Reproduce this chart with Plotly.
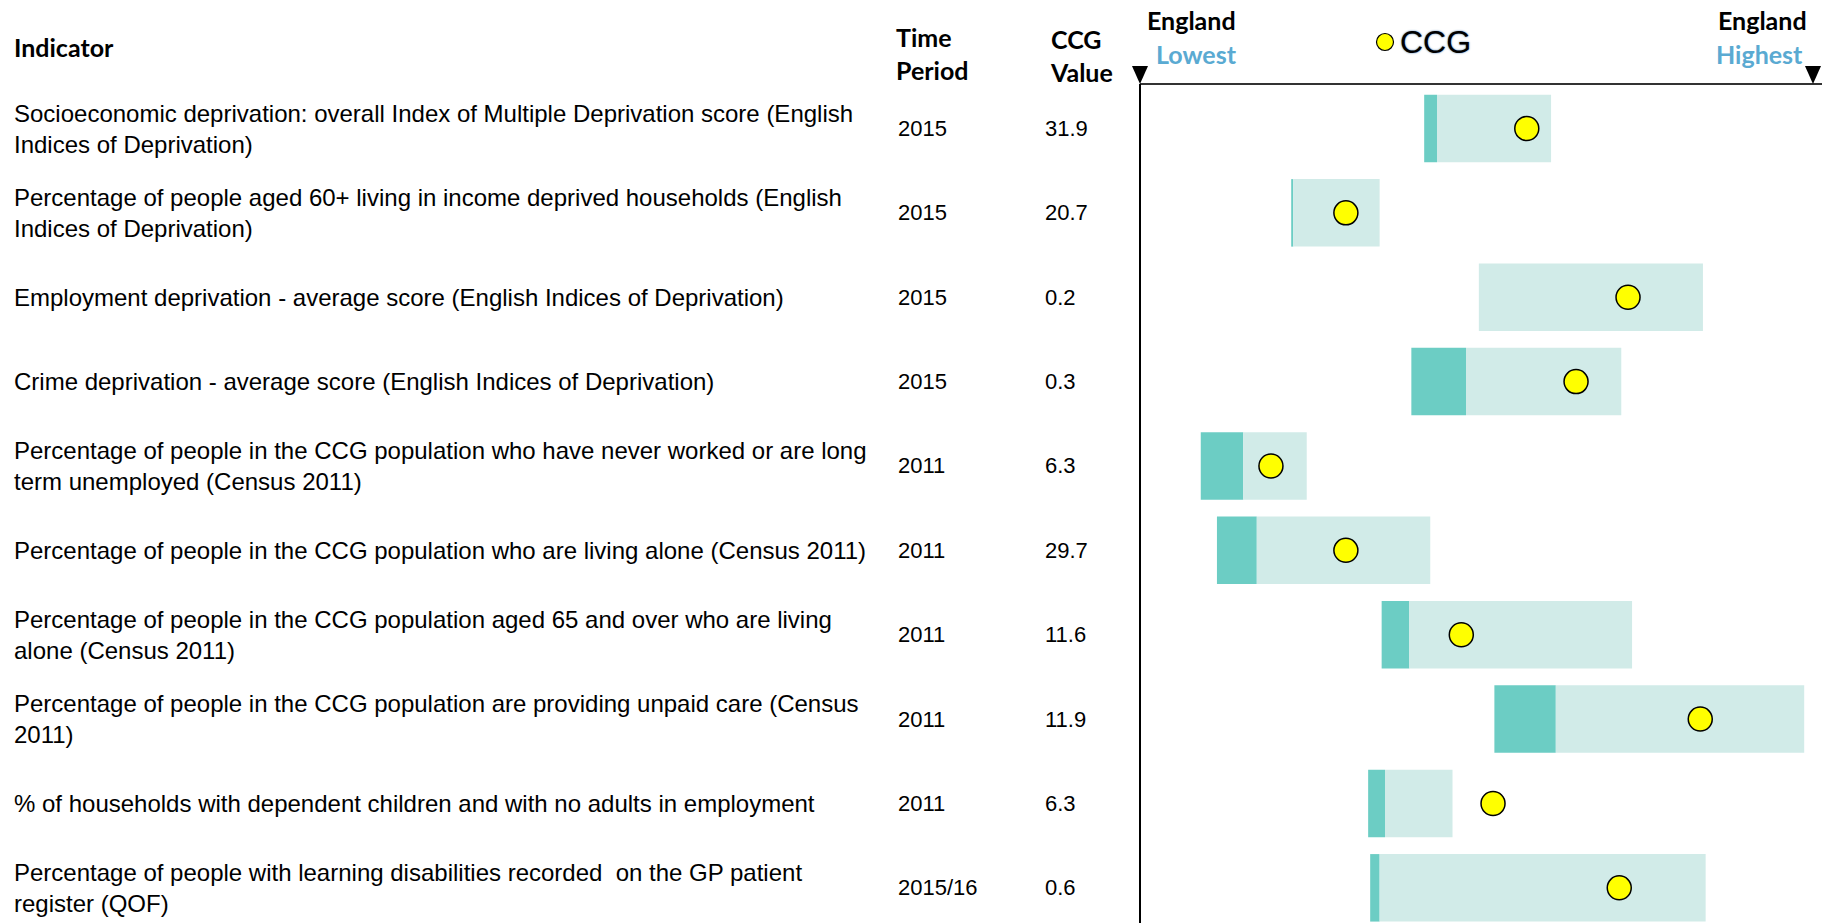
import plotly.graph_objects as go

W, H = 1822, 923

indicators = [
    "Socioeconomic deprivation: overall Index of Multiple Deprivation score (English<br>Indices of Deprivation)",
    "Percentage of people aged 60+ living in income deprived households (English<br>Indices of Deprivation)",
    "Employment deprivation - average score (English Indices of Deprivation)",
    "Crime deprivation - average score (English Indices of Deprivation)",
    "Percentage of people in the CCG population who have never worked or are long<br>term unemployed (Census 2011)",
    "Percentage of people in the CCG population who are living alone (Census 2011)",
    "Percentage of people in the CCG population aged 65 and over who are living<br>alone (Census 2011)",
    "Percentage of people in the CCG population are providing unpaid care (Census<br>2011)",
    "% of households with dependent children and with no adults in employment",
    "Percentage of people with learning disabilities recorded  on the GP patient<br>register (QOF)",
]
time_period = ["2015", "2015", "2015", "2015", "2011", "2011", "2011", "2011", "2011", "2015/16"]
ccg_value = ["31.9", "20.7", "0.2", "0.3", "6.3", "29.7", "11.6", "11.9", "6.3", "0.6"]

# spine positions on a 0 (England lowest) .. 100 (England highest) scale
dark_start = [42.1, 22.4, 50.2, 40.2, 9.0, 11.4, 35.8, 52.5, 33.8, 34.1]
dark_end   = [44.0, 22.7, 50.2, 48.3, 15.3, 17.3, 39.9, 61.6, 36.3, 35.5]
light_end  = [60.9, 35.5, 83.4, 71.3, 24.7, 43.0, 72.9, 98.4, 46.3, 83.8]
ccg_pos    = [57.3, 30.5, 72.3, 64.6, 19.4, 30.5, 47.6, 83.0, 52.3, 71.0]

rows = list(range(len(indicators)))

DARK = "#6CCDC4"
LIGHT = "#D1EBE8"
BLUE = "#5AAAD2"
TXT = "Liberation Sans, Arial, sans-serif"
HDR = "Lato, Calibri, sans-serif"

fig = go.Figure()
fig.add_trace(go.Bar(
    y=rows, x=[e - s for s, e in zip(dark_start, dark_end)], base=dark_start,
    orientation="h", width=0.8, marker=dict(color=DARK, line=dict(width=0)),
    showlegend=False, hoverinfo="skip"))
fig.add_trace(go.Bar(
    y=rows, x=[e - s for s, e in zip(dark_end, light_end)], base=dark_end,
    orientation="h", width=0.8, marker=dict(color=LIGHT, line=dict(width=0)),
    showlegend=False, hoverinfo="skip"))
fig.add_trace(go.Scatter(
    y=rows, x=ccg_pos, mode="markers", name="CCG",
    marker=dict(color="#FFFF00", size=24, line=dict(color="black", width=1.5)),
    showlegend=False))

x0px, x1px = 1140, 1815
row0, step = 128.5, 84.37
fig.update_layout(
    width=W, height=H, margin=dict(l=0, r=0, t=0, b=0),
    paper_bgcolor="white", plot_bgcolor="white", barmode="overlay",
    xaxis=dict(domain=[x0px / W, x1px / W], range=[0, 100], visible=False, fixedrange=True),
    yaxis=dict(domain=[0, 1], range=[(H - row0) / step, -row0 / step], visible=False, fixedrange=True),
)

ann = []
for i in rows:
    ann.append(dict(text=indicators[i], x=12 / W, xref="paper", y=i, yref="y",
                    xanchor="left", yanchor="middle", align="left", showarrow=False,
                    font=dict(family=TXT, size=24, color="black")))
    ann.append(dict(text=time_period[i], x=896 / W, xref="paper", y=i, yref="y",
                    xanchor="left", yanchor="middle", showarrow=False,
                    font=dict(family=TXT, size=22, color="black")))
    ann.append(dict(text=ccg_value[i], x=1043 / W, xref="paper", y=i, yref="y",
                    xanchor="left", yanchor="middle", showarrow=False,
                    font=dict(family=TXT, size=22, color="black")))

def hdr(text, xpx, ypx, anchor="left", color="black", size=25, bold=True, fam=HDR, shadow=None):
    f = dict(family=fam, size=size, color=color)
    if shadow:
        f["shadow"] = shadow
    ann.append(dict(text=("<b>%s</b>" % text) if bold else text, x=xpx / W, xref="paper",
                    y=1 - ypx / H, yref="paper", xanchor=anchor, yanchor="middle",
                    align="left", showarrow=False, font=f))

hdr("Indicator", 12, 47)
hdr("Time<br>Period", 894, 53)
hdr("CCG<br>Value", 1048, 55)
hdr("England", 1145, 20)
hdr("Lowest", 1154, 54, color=BLUE)
hdr("England", 1809, 20, anchor="right")
hdr("Highest", 1805, 54, anchor="right", color=BLUE)
hdr("CCG", 1398, 42, bold=False, fam=TXT, size=32, shadow="0px 0px 2px #3a6ea5")
fig.update_layout(annotations=ann)

shapes = [
    dict(type="line", xref="paper", yref="paper", x0=x0px / W, x1=1, y0=1 - 84 / H, y1=1 - 84 / H,
         line=dict(color="#333333", width=2)),
    dict(type="line", xref="paper", yref="paper", x0=x0px / W, x1=x0px / W, y0=0, y1=1 - 84 / H,
         line=dict(color="black", width=2)),
    dict(type="path", xref="paper", yref="paper",
         path="M %f %f L %f %f L %f %f Z" % ((x0px - 8) / W, 1 - 66 / H, (x0px + 8) / W, 1 - 66 / H, x0px / W, 1 - 84 / H),
         fillcolor="black", line=dict(width=0)),
    dict(type="path", xref="paper", yref="paper",
         path="M %f %f L %f %f L %f %f Z" % ((1813 - 8) / W, 1 - 66 / H, (1813 + 8) / W, 1 - 66 / H, 1813 / W, 1 - 84 / H),
         fillcolor="black", line=dict(width=0)),
    dict(type="circle", xref="paper", yref="paper",
         x0=(1385 - 8.5) / W, x1=(1385 + 8.5) / W, y0=1 - (42 + 8.5) / H, y1=1 - (42 - 8.5) / H,
         fillcolor="#FFFF00", line=dict(color="black", width=1.2)),
]
fig.update_layout(shapes=shapes)

fig.write_html("out.html", config={"displayModeBar": False},
               post_script="document.body.style.margin='0px';document.body.style.overflow='hidden';")
